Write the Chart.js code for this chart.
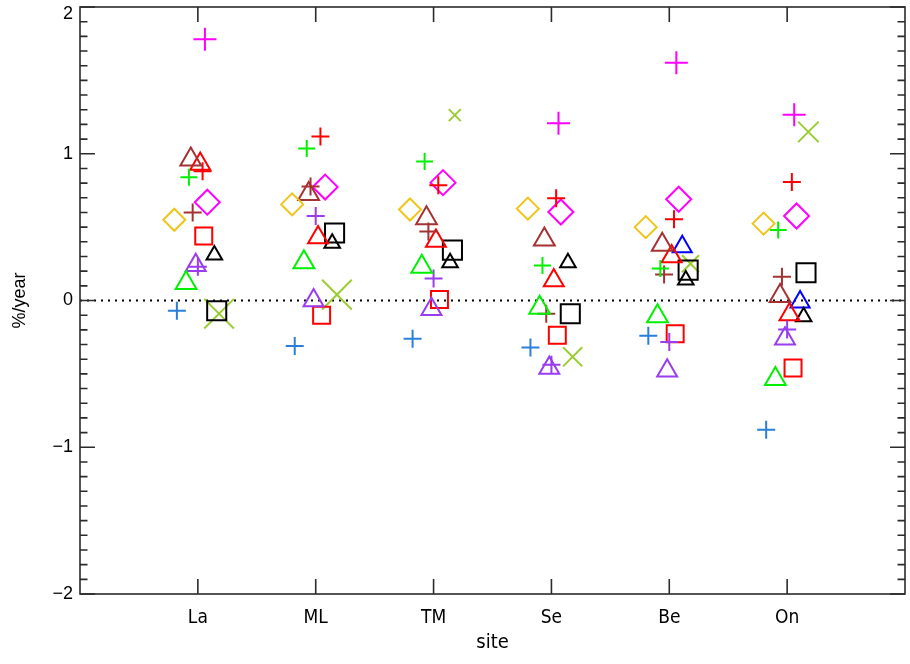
<!DOCTYPE html>
<html lang="en">
<head>
    <meta charset="UTF-8">
    <title>Trend per site</title>
    <script src="https://cdn.jsdelivr.net/npm/chart.js"></script>
    <style>
        body { margin: 0; background: #fff; }
    </style>
</head>
<body>
    <canvas id="trendChart" width="910" height="664"></canvas>
    <script>
        // sites on the x axis (positions 1..6)
        const sites = ['La', 'ML', 'TM', 'Se', 'Be', 'On'];
        const yTicks = [-2, -1, 0, 1, 2];

        // trend values (%/year), one per site, null where there is no mark
        const bluePlus      = [-0.07, -0.31, -0.26, -0.32, -0.24, -0.88];
        const goldDiamond   = [0.55, 0.655, 0.62, 0.626, 0.50, 0.524];
        const greenTriangle = [0.12, 0.26, 0.23, -0.05, -0.107, -0.535];
        const greenPlus     = [0.84, 1.035, 0.947, 0.239, 0.218, 0.48];
        const brownPlus     = [0.60, 0.776, 0.47, -0.09, 0.177, 0.162];
        const brownTriangle = [0.96, 0.725, 0.56, 0.416, 0.38, 0.03];
        const purpleTriangle = [0.24, 0.0, -0.06, -0.46, -0.478, -0.26];
        const purplePlus    = [0.23, 0.575, 0.15, -0.437, -0.282, -0.198];
        const redTriangle   = [0.93, 0.43, 0.405, 0.137, 0.30, -0.096];
        const redPlus       = [0.88, 1.117, 0.785, 0.696, 0.553, 0.808];
        const redSquare     = [0.44, -0.10, 0.007, -0.237, -0.227, -0.46];
        const magentaPlus   = [1.78, null, null, 1.208, 1.62, 1.265];
        const magentaDiamond = [0.67, 0.773, 0.803, 0.603, 0.69, 0.576];
        const blackTriangle = [0.31, 0.39, 0.257, 0.257, 0.139, -0.11];
        const blackSquare   = [-0.07, 0.46, 0.343, -0.09, 0.207, 0.189];
        const greenCross    = [-0.09, 0.04, 1.263, -0.384, 0.25, 1.149];
        const blueTriangle  = [null, null, null, null, 0.366, -0.01];

        // look of each series: colour, symbol, size, small sideways shift
        const series = [
            { vals: bluePlus,       color: '#2a7fdb', style: 'cross',    r: 9,    shift: -0.178 },
            { vals: goldDiamond,    color: '#f0c419', style: 'rectRot',  r: 11,   shift: -0.2 },
            { vals: greenTriangle,  color: '#00f000', style: 'triangle', r: 12,   shift: -0.1 },
            { vals: greenPlus,      color: '#00f000', style: 'cross',    r: 8.5,  shift: -0.076 },
            { vals: brownPlus,      color: '#a53232', style: 'cross',    r: 9,    shift: -0.044 },
            { vals: brownTriangle,  color: '#a53232', style: 'triangle', r: 12,   shift: -0.06 },
            { vals: purpleTriangle, color: '#9a3cf0', style: 'triangle', r: 11.5, shift: -0.018 },
            { vals: purplePlus,     color: '#9a3cf0', style: 'cross',    r: 9,    shift: 0 },
            { vals: redTriangle,    color: '#ff0000', style: 'triangle', r: 11.5, shift: 0.02 },
            { vals: redPlus,        color: '#ff0000', style: 'cross',    r: 9,    shift: 0.04 },
            { vals: redSquare,      color: '#ff0000', style: 'rect',     r: 12,   shift: 0.05 },
            { vals: magentaPlus,    color: '#ff00ff', style: 'cross',    r: 11.5, shift: 0.06 },
            { vals: magentaDiamond, color: '#ff00ff', style: 'rectRot',  r: 12.5, shift: 0.08 },
            { vals: blackTriangle,  color: '#000000', style: 'triangle', r: 9,    shift: 0.14 },
            { vals: blackSquare,    color: '#000000', style: 'rect',     r: 13.5, shift: 0.16 },
            { vals: greenCross,     color: '#9acd32', style: 'crossRot', r: [21, 21, 8.5, 13.5, 12, 14.5], shift: 0.18 },
            { vals: blueTriangle,   color: '#0000ff', style: 'triangle', r: 11,   shift: 0.11 }
        ];

        const datasets = series.map(s => {
            const pts = [], radii = [];
            sites.forEach((site, i) => {
                if (s.vals[i] === null) return;
                pts.push({ x: i + 1 + s.shift, y: s.vals[i] });
                radii.push(Array.isArray(s.r) ? s.r[i] : s.r);
            });
            return {
                data: pts,
                pointStyle: s.style,
                pointRadius: radii,
                borderColor: s.color,
                backgroundColor: 'rgba(0,0,0,0)',
                pointBorderWidth: 2,
                showLine: false
            };
        });

        // IDL style box: inward ticks on all four sides + dotted zero line
        const boxPlugin = {
            id: 'box',
            beforeDatasetsDraw(chart) {
                const { ctx, chartArea: a, scales: { y } } = chart;
                const y0 = y.getPixelForValue(0);
                ctx.save();
                ctx.strokeStyle = '#000';
                ctx.lineWidth = 2;
                ctx.setLineDash([2, 5]);
                ctx.beginPath();
                ctx.moveTo(a.left, y0);
                ctx.lineTo(a.right, y0);
                ctx.stroke();
                ctx.restore();
            },
            afterDraw(chart) {
                const { ctx, chartArea: a, scales: { x, y } } = chart;
                ctx.save();
                ctx.strokeStyle = '#2b2b2b';
                ctx.lineWidth = 1.6;
                ctx.strokeRect(a.left, a.top, a.right - a.left, a.bottom - a.top);
                ctx.beginPath();
                for (let k = -20; k <= 20; k++) {
                    const py = y.getPixelForValue(k / 10);
                    const len = k % 10 === 0 ? 15 : 7.5;
                    ctx.moveTo(a.left, py); ctx.lineTo(a.left + len, py);
                    ctx.moveTo(a.right, py); ctx.lineTo(a.right - len, py);
                }
                sites.forEach((s, i) => {
                    const px = x.getPixelForValue(i + 1);
                    ctx.moveTo(px, a.bottom); ctx.lineTo(px, a.bottom - 15);
                    ctx.moveTo(px, a.top); ctx.lineTo(px, a.top + 15);
                });
                ctx.stroke();
                ctx.restore();
            }
        };

        // top label sits a bit lower so it is not cut by the canvas edge
        const yLabel = v => {
            const txt = v < 0 ? '\u2212' + Math.abs(v) : String(v);
            return v === 2 ? ['', txt] : txt;
        };

        new Chart(document.getElementById('trendChart'), {
            type: 'scatter',
            data: { datasets: datasets },
            options: {
                responsive: false,
                animation: false,
                layout: { autoPadding: false, padding: { top: 7, right: 5, left: 0, bottom: 0 } },
                plugins: { legend: { display: false }, tooltip: { enabled: false } },
                scales: {
                    x: {
                        type: 'linear', min: 0, max: 7,
                        grid: { display: false, drawTicks: true, tickLength: 13 },
                        border: { display: false },
                        afterBuildTicks: s => { s.ticks = sites.map((n, i) => ({ value: i + 1 })); },
                        ticks: {
                            autoSkip: false, maxRotation: 0, padding: 0, color: '#000',
                            font: { family: "'DejaVu Sans Condensed', 'Liberation Sans Narrow', 'DejaVu Sans'", size: 19 },
                            callback: v => sites[v - 1] || ''
                        },
                        title: {
                            display: true, text: 'site', color: '#000',
                            font: { family: "'DejaVu Sans Condensed', 'Liberation Sans Narrow', 'DejaVu Sans'", size: 20 },
                            padding: { top: 0, bottom: 9 }
                        },
                        afterFit: s => { s.height = 70; s.paddingLeft = 0; s.paddingRight = 0; }
                    },
                    y: {
                        min: -2, max: 2,
                        grid: { display: false, drawTicks: true, tickLength: 7 },
                        border: { display: false },
                        afterBuildTicks: s => { s.ticks = yTicks.map(v => ({ value: v })); },
                        ticks: {
                            padding: 0, color: '#000',
                            font: { family: "'Liberation Sans', Arial, sans-serif", size: 18, lineHeight: 0.75 },
                            callback: yLabel
                        },
                        title: {
                            display: true, text: '%/year', color: '#000',
                            font: { family: "'Liberation Sans', Arial, sans-serif", size: 18 },
                            padding: { top: 9, bottom: 0 }
                        },
                        afterFit: s => { s.width = 80; s.paddingTop = 0; s.paddingBottom = 0; }
                    }
                }
            },
            plugins: [boxPlugin]
        });
    </script>
</body>
</html>
